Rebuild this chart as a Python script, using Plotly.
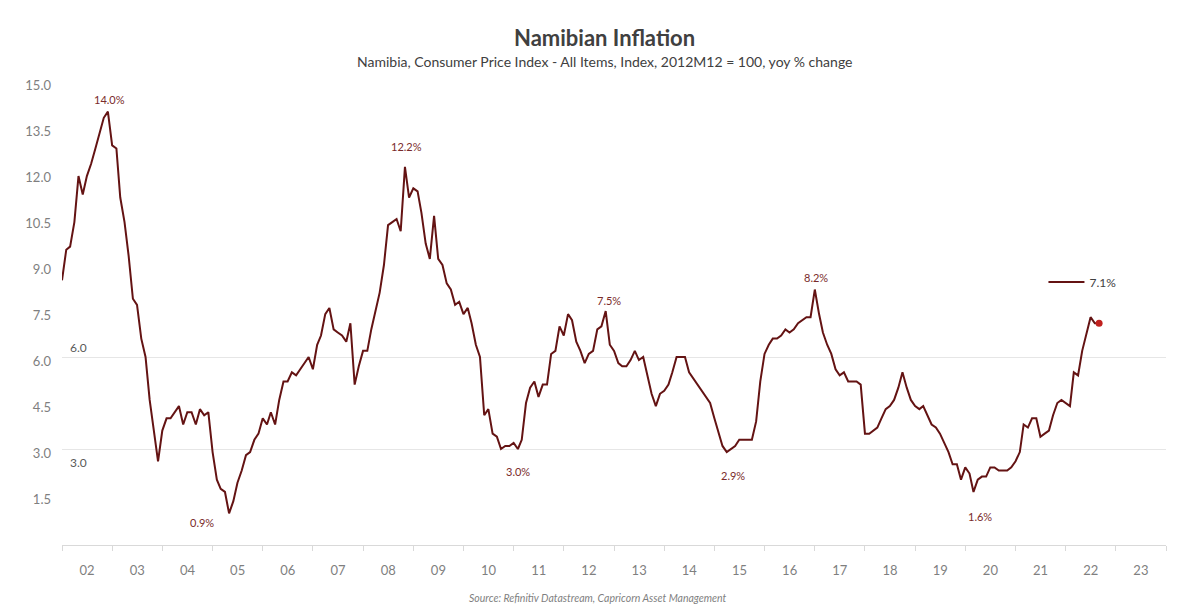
import pandas as pd
import plotly.graph_objects as go

# Monthly yoy % change, Jan 2002 .. Sep 2022
inflation = [
    # 2002
    8.5, 9.5, 9.6, 10.4, 11.9, 11.3, 11.9, 12.3, 12.8, 13.3, 13.8, 14.0,
    # 2003
    12.9, 12.8, 11.2, 10.4, 9.3, 7.9, 7.7, 6.6, 6.0, 4.6, 3.5, 2.6,
    # 2004
    3.6, 4.0, 4.0, 4.2, 4.4, 3.8, 4.2, 4.2, 3.8, 4.3, 4.1, 4.2,
    # 2005
    2.9, 2.0, 1.7, 1.6, 0.9, 1.3, 1.9, 2.3, 2.8, 2.9, 3.3, 3.5,
    # 2006
    4.0, 3.8, 4.2, 3.8, 4.6, 5.2, 5.2, 5.5, 5.4, 5.6, 5.8, 6.0,
    # 2007
    5.6, 6.4, 6.7, 7.4, 7.6, 6.9, 6.8, 6.7, 6.5, 7.1, 5.1, 5.7,
    # 2008
    6.2, 6.2, 6.9, 7.5, 8.1, 9.0, 10.3, 10.4, 10.5, 10.1, 12.2, 11.2,
    # 2009
    11.5, 11.4, 10.7, 9.7, 9.2, 10.6, 9.2, 9.0, 8.4, 8.2, 7.7, 7.8,
    # 2010
    7.4, 7.6, 7.1, 6.4, 6.0, 4.1, 4.3, 3.5, 3.4, 3.0, 3.1, 3.1,
    # 2011
    3.2, 3.0, 3.3, 4.5, 5.0, 5.2, 4.7, 5.1, 5.1, 6.1, 6.2, 7.0,
    # 2012
    6.7, 7.4, 7.2, 6.5, 6.2, 5.8, 6.1, 6.2, 6.9, 7.0, 7.5, 6.4,
    # 2013
    6.2, 5.8, 5.7, 5.7, 5.9, 6.2, 5.9, 6.0, 5.4, 4.8, 4.4, 4.8,
    # 2014
    4.9, 5.1, 5.5, 6.0, 6.0, 6.0, 5.5, 5.3, 5.1, 4.9, 4.7, 4.5,
    # 2015
    4.0, 3.5, 3.1, 2.9, 3.0, 3.1, 3.3, 3.3, 3.3, 3.3, 3.9, 5.2,
    # 2016
    6.1, 6.4, 6.6, 6.6, 6.7, 6.9, 6.8, 6.9, 7.1, 7.2, 7.3, 7.3,
    # 2017
    8.2, 7.4, 6.8, 6.4, 6.1, 5.6, 5.4, 5.5, 5.2, 5.2, 5.2, 5.1,
    # 2018
    3.5, 3.5, 3.6, 3.7, 4.0, 4.3, 4.4, 4.6, 5.0, 5.5, 5.0, 4.6,
    # 2019
    4.4, 4.3, 4.4, 4.1, 3.8, 3.7, 3.5, 3.2, 2.9, 2.5, 2.5, 2.0,
    # 2020
    2.4, 2.2, 1.6, 2.0, 2.1, 2.1, 2.4, 2.4, 2.3, 2.3, 2.3, 2.4,
    # 2021
    2.6, 2.9, 3.8, 3.7, 4.0, 4.0, 3.4, 3.5, 3.6, 4.1, 4.5, 4.6,
    # 2022
    4.5, 4.4, 5.5, 5.4, 6.2, 6.8, 7.3, 7.1, 7.1,
]
start_month = "2002-01-01"
dates = pd.date_range(start_month, periods=len(inflation), freq="MS")

# labelled turning points (index into the series) and label offsets
label_idx = [11, 40, 82, 109, 130, 159, 180, 218]
label_dx = [2, -27, 2, 0, 3, 6, 1, 6]
label_dy = [12, -9, 20, -22, 11, -23, 12, -25]

y_ticks = [1.5, 3.0, 4.5, 6.0, 7.5, 9.0, 10.5, 12.0, 13.5, 15.0]
band_lines = [3.0, 6.0]
band_dy = [-13, 10]

line_color = "#641313"
label_color = "#7a2b2b"
font_family = "Lato, 'Open Sans', sans-serif"

fig = go.Figure()
fig.add_trace(go.Scatter(
    x=dates, y=inflation, mode="lines",
    line=dict(color=line_color, width=2),
    name=f"{inflation[-1]:.1f}%",
))
fig.add_trace(go.Scatter(
    x=[dates[-1]], y=[inflation[-1]], mode="markers",
    marker=dict(color="#c0201e", size=7),
    showlegend=False, hoverinfo="skip",
))

for i, dx, dy in zip(label_idx, label_dx, label_dy):
    fig.add_annotation(
        x=dates[i], y=inflation[i], text=f"{inflation[i]:.1f}%",
        showarrow=False, xshift=dx, yshift=dy,
        xanchor="center", yanchor="middle",
        font=dict(size=11, color=label_color, family=font_family),
    )

for v, dy in zip(band_lines, band_dy):
    fig.add_annotation(
        xref="paper", x=0.0145, y=v, text=f"{v:.1f}",
        showarrow=False, yshift=dy, xanchor="center", yanchor="middle",
        font=dict(size=12, color="#595959", family=font_family),
    )

fig.add_annotation(
    xref="paper", yref="paper", x=0.491, y=1.093,
    xanchor="center", yanchor="middle",
    text="<b>Namibian Inflation</b>", showarrow=False,
    font=dict(size=22, color="#404040", family=font_family),
)
fig.add_annotation(
    xref="paper", yref="paper", x=0.491, y=1.041,
    xanchor="center", yanchor="middle",
    text="Namibia, Consumer Price Index - All Items, Index, 2012M12 = 100, yoy % change",
    showarrow=False,
    font=dict(size=14, color="#404040", family=font_family),
)
fig.add_annotation(
    xref="paper", yref="paper", x=0.4855, y=-0.114,
    xanchor="center", yanchor="middle",
    text="<i>Source: Refinitiv Datastream, Capricorn Asset Management</i>",
    showarrow=False,
    font=dict(size=10.5, color="#7f7f7f", family=font_family),
)

fig.update_layout(
    width=1196, height=606,
    margin=dict(l=62, r=30, t=81, b=61),
    paper_bgcolor="white", plot_bgcolor="white",
    font=dict(family=font_family, color="#595959"),
    showlegend=True,
    legend=dict(
        x=0.889, y=0.567, xanchor="left", yanchor="middle",
        itemwidth=36,
        bgcolor="rgba(0,0,0,0)", font=dict(size=12, color="#404040"),
    ),
    xaxis=dict(
        type="date",
        range=["2002-01-01", "2024-01-01"],
        dtick="M12", tick0="2002-01-01",
        tickformat="%y", ticklabelmode="period",
        ticks="outside", ticklen=5, tickcolor="#d9d9d9",
        showline=True, linecolor="#d9d9d9", linewidth=1,
        showgrid=False, zeroline=False,
        tickfont=dict(size=13, color="#7f7f7f"),
        ticklabelstandoff=8,
    ),
    yaxis=dict(
        range=[-0.13, 15.0],
        tickmode="array", tickvals=y_ticks,
        ticktext=[f"{t:.1f}" for t in y_ticks],
        showgrid=False, zeroline=False, showline=False,
        tickfont=dict(size=13, color="#7f7f7f"),
        ticklabelstandoff=10, ticklabelshift=4,
        minor=dict(tickmode="array", tickvals=band_lines, showgrid=True,
                   gridcolor="#e6e6e6", gridwidth=1, ticks=""),
    ),
)

fig.write_html("out.html")
